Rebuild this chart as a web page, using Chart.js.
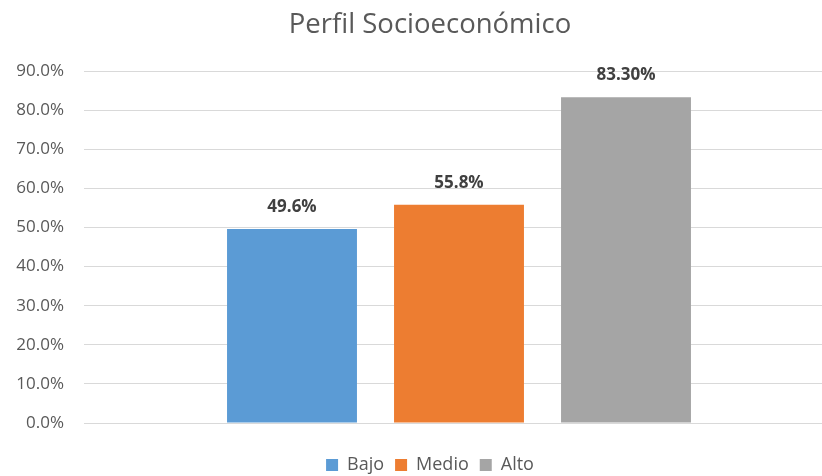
<!DOCTYPE html>
<html>
<head>
<meta charset="utf-8">
<script src="https://cdn.jsdelivr.net/npm/chart.js@4"></script>
<style>
  html, body { margin: 0; padding: 0; background: #fff; overflow: hidden; }
  #wrap { width: 860px; height: 476px; }
</style>
</head>
<body>
<div id="wrap"><canvas id="perfilChart" width="860" height="476"></canvas></div>
<script>
const categories = [''];
const seriesNames = ['Bajo', 'Medio', 'Alto'];
const seriesValues = [49.6, 55.8, 83.3];
const valueLabels = ['49.6%', '55.8%', '83.30%'];
const seriesColors = ['#5B9BD5', '#ED7D31', '#A5A5A5'];
const yTicks = [0, 10, 20, 30, 40, 50, 60, 70, 80, 90];

const fontFamily = '"Open Sans", "Noto Sans", sans-serif';

// draws the value above each bar
const barLabels = {
  id: 'barLabels',
  afterDatasetsDraw(chart) {
    const ctx = chart.ctx;
    ctx.save();
    ctx.font = 'bold 17px ' + fontFamily;
    ctx.fillStyle = '#404040';
    ctx.textAlign = 'center';
    ctx.textBaseline = 'middle';
    chart.data.datasets.forEach((ds, i) => {
      const bar = chart.getDatasetMeta(i).data[0];
      ctx.fillText(valueLabels[i], bar.x, bar.y - 22);
    });
    ctx.restore();
  }
};

const datasets = seriesNames.map((name, i) => ({
  label: name,
  data: [seriesValues[i]],
  backgroundColor: seriesColors[i],
  borderWidth: 0,
  categoryPercentage: 0.668,
  barPercentage: 0.778,
}));

const ctx = document.getElementById('perfilChart').getContext('2d');
const chart = new Chart(ctx, {
  type: 'bar',
  data: {
    labels: categories,
    datasets: datasets,
  },
  plugins: [barLabels],
  options: {
    responsive: false,
    animation: false,
    layout: {
      padding: { left: 12, right: 12, top: 0, bottom: -8 },
    },
    plugins: {
      title: {
        display: true,
        text: 'Perfil Socioeconómico',
        color: '#595959',
        font: { family: fontFamily, size: 27.5, weight: 'normal' },
        padding: { top: 9, bottom: 29 },
      },
      legend: {
        position: 'bottom',
        labels: {
          color: '#595959',
          font: { family: fontFamily, size: 18 },
          boxWidth: 12,
          boxHeight: 12,
          padding: 11,
        },
      },
      tooltip: { enabled: false },
    },
    scales: {
      x: {
        afterFit: axis => { axis.height = 22; },
        grid: { display: false, drawTicks: false },
        border: { display: true, color: '#D9D9D9' },
        ticks: { display: false },
      },
      y: {
        min: 0,
        max: 90,
        afterFit: axis => { axis.width = 72; },
        afterBuildTicks: axis => { axis.ticks = yTicks.map(v => ({ value: v })); },
        grid: { color: '#D9D9D9', drawTicks: false },
        border: { display: false },
        ticks: {
          color: '#595959',
          font: { family: fontFamily, size: 17 },
          padding: 20,
          callback: v => v.toFixed(1) + '%',
        },
      },
      // empty right-hand spacer so the plot sits where the original does
      yRight: {
        position: 'right',
        afterFit: axis => { axis.width = 14; },
        grid: { display: false, drawTicks: false },
        border: { display: false },
        ticks: { display: false },
      },
    },
  },
});
</script>
</body>
</html>
